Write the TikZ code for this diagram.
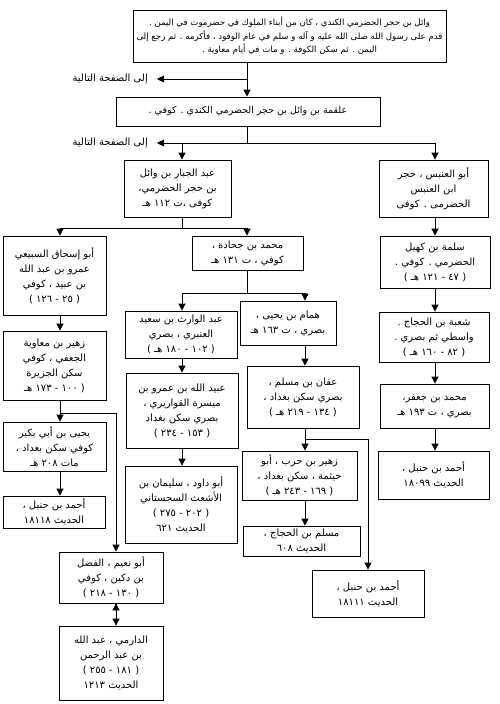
\documentclass[tikz,border=0pt]{standalone}
\usepackage{fontspec}
\usepackage{tikz}
\usetikzlibrary{positioning,arrows.meta}
\newfontfamily\arabicfont[Script=Arabic]{DejaVu Sans}
\TeXXeTstate=1
\newcommand{\artxt}[1]{\beginR #1\endR}

\begin{document}
\begin{tikzpicture}[
    x=1pt, y=-1pt,
    rawi/.style={rectangle, draw, line width=0.8pt, align=center, inner sep=1pt,
        font=\arabicfont\fontsize{10}{15}\selectfont},
    pagenote/.style={anchor=east, inner xsep=9pt, font=\arabicfont\fontsize{10}{12}\selectfont},
    link/.style={draw, line width=0.8pt, -{Triangle[width=7pt,length=7pt]}},
    bus/.style={draw, line width=0.8pt}
]
\useasboundingbox (0,0) rectangle (500,704);

% columns of the chains
\coordinate (main) at (247,0);
\coordinate (colA) at (60,0);
\coordinate (colB) at (182,0);
\coordinate (colC) at (305,0);
\coordinate (colD) at (435,0);
\coordinate (sideA) at (116,0);
\coordinate (sideC) at (368,0);

% top of the chain
\node[rawi, minimum width=313pt, minimum height=52pt, font=\arabicfont\fontsize{8.6}{13.5}\selectfont] (wail) at (289.5,36)
    {\artxt{وائل بن حجر الحضرمي الكندي ، كان من أبناء الملوك في حضرموت في اليمن .}\\
     \artxt{قدم على رسول الله صلى الله عليه و آله و سلم في عام الوفود ، فأكرمه . ثم رجع إلى}\\
     \artxt{اليمن . ثم سكن الكوفة . و مات في أيام معاوية .}};
\node[rawi, minimum width=264pt, minimum height=29pt, font=\arabicfont\fontsize{9.5}{15}\selectfont] (alqama) at (248,111.5)
    {\artxt{علقمة بن وائل بن حجر الحضرمي الكندي . كوفي .}};

\coordinate (j1) at (247,79);
\coordinate (j2) at (247,143);
\node[pagenote] (note1) at (157,79) {\artxt{إلى الصفحة التالية}};
\node[pagenote] (note2) at (157,143) {\artxt{إلى الصفحة التالية}};

% second level
\node[rawi, minimum width=107pt, minimum height=57pt] (jabbar) at (177.5,188.5)
    {\artxt{عبد الجبار بن وائل}\\ \artxt{بن حجر الحضرمي،}\\ \artxt{كوفى ،ت ١١٢ هـ}};
\node[rawi, minimum width=109pt, minimum height=57pt] (anbas) at (433.5,188.5)
    {\artxt{أبو العنبس ، حجر}\\ \artxt{ابن العنبس}\\ \artxt{الحضرمى . كوفى}};

% third level
\node[rawi, minimum width=103pt, minimum height=79pt] (isa) at (54.5,275.5)
    {\artxt{أبو إسحاق السبيعي}\\ \artxt{عمرو بن عبد الله}\\ \artxt{بن عبيد ، كوفي}\\ \artxt{( ٢٥ - ١٢٦ )}};
\node[rawi, minimum width=111pt, minimum height=34pt] (juhada) at (247.5,253)
    {\artxt{محمد بن جحادة ،}\\ \artxt{كوفي ، ت ١٣١ هـ}};
\node[rawi, minimum width=110pt, minimum height=52pt] (salama) at (435,262)
    {\artxt{سلمة بن كهيل}\\ \artxt{الحضرمي . كوفي .}\\ \artxt{( ٤٧ - ١٢١ هـ )}};

% fourth level
\node[rawi, minimum width=112pt, minimum height=47pt] (warith) at (181,334.5)
    {\artxt{عبد الوارث بن سعيد}\\ \artxt{العنبري ، بصري}\\ \artxt{( ١٠٢ - ١٨٠ هـ )}};
\node[rawi, minimum width=96pt, minimum height=44pt] (hammam) at (288,323)
    {\artxt{همام بن يحيى ،}\\ \artxt{بصري ، ت ١٦٣ هـ}};
\node[rawi, minimum width=110pt, minimum height=50pt] (shuba) at (434,337)
    {\artxt{شعبة بن الحجاج .}\\ \artxt{واسطي ثم بصري .}\\ \artxt{( ٨٢ - ١٦٠ هـ )}};
\node[rawi, minimum width=103pt, minimum height=69pt] (zuhm) at (54.5,365.5)
    {\artxt{زهير بن معاوية}\\ \artxt{الجعفي ، كوفي}\\ \artxt{سكن الجزيرة}\\ \artxt{( ١٠٠ - ١٧٣ هـ}};

% fifth level
\node[rawi, minimum width=112pt, minimum height=75pt] (ubaid) at (182,410.5)
    {\artxt{عبيد الله بن عمرو بن}\\ \artxt{ميسرة القواريري ،}\\ \artxt{بصري سكن بغداد}\\ \artxt{( ١٥٣ - ٢٣٤ )}};
\node[rawi, minimum width=112pt, minimum height=62pt] (affan) at (303,397)
    {\artxt{عفان بن مسلم ،}\\ \artxt{بصري سكن بغداد ،}\\ \artxt{( ١٣٤ - ٢١٩ هـ )}};
\node[rawi, minimum width=109pt, minimum height=44pt] (ghundar) at (434.5,406)
    {\artxt{محمد بن جعفر،}\\ \artxt{بصري ، ت ١٩٣ هـ}};
\node[rawi, minimum width=103pt, minimum height=49pt] (yahya) at (54.5,446.5)
    {\artxt{يحيى بن أبي بكير}\\ \artxt{كوفي سكن بغداد ،}\\ \artxt{مات ٢٠٨ هـ}};

% collectors
\node[rawi, minimum width=115pt, minimum height=49pt] (zuhh) at (299.5,475.5)
    {\artxt{زهير بن حرب ، أبو}\\ \artxt{خيثمة ، سكن بغداد ،}\\ \artxt{( ١٦٩ - ٢٤٣ هـ )}};
\node[rawi, minimum width=111pt, minimum height=48pt] (ahmadD) at (433.5,475)
    {\artxt{أحمد بن حنبل ،}\\ \artxt{الحديث ١٨٠٩٩}};
\node[rawi, minimum width=112pt, minimum height=77pt] (dawud) at (181,504.5)
    {\artxt{أبو داود ، سليمان بن}\\ \artxt{الأشعث السجستاني}\\ \artxt{( ٢٠٢ - ٢٧٥ )}\\ \artxt{الحديث ٦٢١}};
\node[rawi, minimum width=102pt, minimum height=32pt] (ahmadA) at (54,512)
    {\artxt{أحمد بن حنبل ،}\\ \artxt{الحديث ١٨١١٨}};
\node[rawi, minimum width=117pt, minimum height=30pt] (muslim) at (301.5,541)
    {\artxt{مسلم بن الحجاج ،}\\ \artxt{الحديث ٦٠٨}};
\node[rawi, minimum width=104pt, minimum height=51pt] (nuaym) at (111,577.5)
    {\artxt{أبو نعيم ، الفضل}\\ \artxt{بن دكين ، كوفي}\\ \artxt{( ١٣٠ - ٢١٨ )}};
\node[rawi, minimum width=104pt, minimum height=74pt] (darimi) at (111,663)
    {\artxt{الدارمي ، عبد الله}\\ \artxt{بن عبد الرحمن}\\ \artxt{( ١٨١ - ٢٥٥ )}\\ \artxt{الحديث ١٢١٣}};
\node[rawi, minimum width=112pt, minimum height=47pt] (ahmadC) at (368,593.5)
    {\artxt{أحمد بن حنبل ،}\\ \artxt{الحديث ١٨١١١}};

% junctions
\coordinate (j3) at (182,228);
\coordinate (j4) at (247,293);
\coordinate (j5) at (60,413);
\coordinate (j6) at (305,439);

\draw[bus] (alqama.south -| main) -- (j2)
    (j2) -- (j2 -| colD)
    (jabbar.south -| colB) -- (j3)
    (j3 -| colA) -- (j3 -| main)
    (juhada.south -| main) -- (j4)
    (j4 -| colB) -- (j4 -| colC);

\path[link] (wail.south -| main) edge (alqama.north -| main)
    (j1) edge (note1.east)
    (j2) edge (note2.east)
    (j2 -| colB) edge (jabbar.north -| colB)
    (j2 -| colD) edge (anbas.north -| colD)
    (j3 -| colA) edge (isa.north -| colA)
    (j3 -| main) edge (juhada.north -| main)
    (anbas.south -| colD) edge (salama.north -| colD)
    (j4 -| colB) edge (warith.north -| colB)
    (j4 -| colC) edge (hammam.north -| colC)
    (salama.south -| colD) edge (shuba.north -| colD)
    (isa.south -| colA) edge (zuhm.north -| colA)
    (warith.south -| colB) edge (ubaid.north -| colB)
    (hammam.south -| colC) edge (affan.north -| colC)
    (shuba.south -| colD) edge (ghundar.north -| colD)
    (zuhm.south -| colA) edge (yahya.north -| colA)
    (affan.south -| colC) edge (zuhh.north -| colC)
    (ghundar.south -| colD) edge (ahmadD.north -| colD)
    (ubaid.south -| colB) edge (dawud.north -| colB)
    (yahya.south -| colA) edge (ahmadA.north -| colA)
    (zuhh.south -| colC) edge (muslim.north -| colC)
    (nuaym.south -| sideA) edge (darimi.north -| sideA);

\draw[link] (j5) -- (j5 -| sideA) -- (nuaym.north -| sideA);
\draw[link] (j6) -- (j6 -| sideC) -- (ahmadC.north -| sideC);

\end{tikzpicture}
\end{document}
